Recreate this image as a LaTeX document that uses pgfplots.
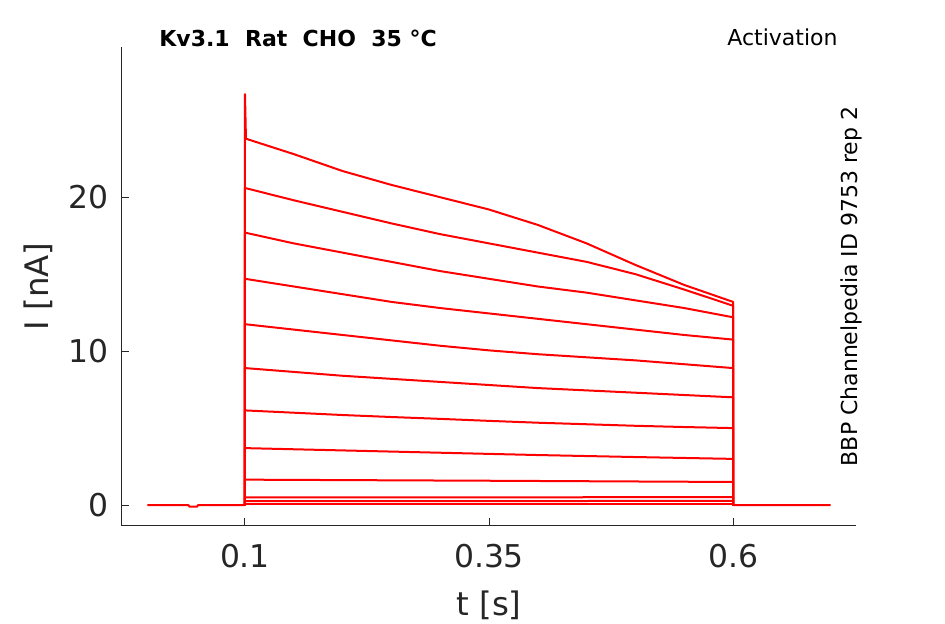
\documentclass[border=0pt]{standalone}
\usepackage{fontspec}
\setmainfont{DejaVu Sans}
\usepackage{pgfplots}
\pgfplotsset{compat=1.18}
\definecolor{axgray}{RGB}{38,38,38}
\tikzset{trace/.style={draw=red, solid, line width=1pt, line join=round, mark=none}}
\begin{document}
\begin{tikzpicture}
\begin{axis}[
  scale only axis, width=367pt, height=239.5pt,
  xmin=-0.026, xmax=0.726, ymin=-1.36, ymax=29.76,
  axis lines*=left, axis line style={-, draw=axgray, line width=0.5pt},
  xtick={0.1,0.35,0.6}, xticklabels={0.1,0.35,0.6},
  ytick={0,10,20},
  tick align=inside, major tick length=3.75pt,
  tick style={draw=axgray, line width=0.5pt},
  ticklabel style={font=\fontsize{15.7}{18}\selectfont, text=axgray},
  /pgf/number format/assume math mode=true,
  xticklabel style={yshift=-5.8pt},
  yticklabel style={xshift=-3.3pt},
  xlabel={t [s]}, ylabel={I [nA]},
  label style={font=\fontsize{16.2}{19}\selectfont, text=axgray},
  xlabel style={at={(axis description cs:0.5,-0.1858)}, anchor=base},
  ylabel style={at={(axis description cs:-0.1008,0.5)}, anchor=base},
]
\addplot[trace] coordinates {(0,0) (0.042,0) (0.043,-0.1) (0.051,-0.1) (0.052,0) (0.1,0) (0.1,26.7) (0.101,23.8) (0.15,22.8) (0.2,21.7) (0.25,20.8) (0.3,20.0) (0.35,19.2) (0.4,18.2) (0.45,17.0) (0.5,15.6) (0.55,14.3) (0.6,13.2) (0.6,0) (0.7,0)};
\addplot[trace] coordinates {(0.1,0) (0.1,20.6) (0.15,19.8) (0.2,19.05) (0.25,18.3) (0.3,17.6) (0.35,17.0) (0.4,16.4) (0.45,15.8) (0.5,15.0) (0.55,14.0) (0.6,12.95) (0.6,0)};
\addplot[trace] coordinates {(0.1,0) (0.1,17.7) (0.15,17.0) (0.2,16.4) (0.25,15.8) (0.3,15.2) (0.35,14.7) (0.4,14.2) (0.45,13.8) (0.5,13.3) (0.55,12.8) (0.6,12.2) (0.6,0)};
\addplot[trace] coordinates {(0.1,0) (0.1,14.7) (0.15,14.2) (0.2,13.7) (0.25,13.2) (0.3,12.8) (0.35,12.45) (0.4,12.1) (0.45,11.75) (0.5,11.4) (0.55,11.05) (0.6,10.75) (0.6,0)};
\addplot[trace] coordinates {(0.1,0) (0.1,11.75) (0.15,11.4) (0.2,11.05) (0.25,10.7) (0.3,10.35) (0.35,10.05) (0.4,9.8) (0.45,9.6) (0.5,9.4) (0.55,9.15) (0.6,8.9) (0.6,0)};
\addplot[trace] coordinates {(0.1,0) (0.1,8.9) (0.15,8.65) (0.2,8.4) (0.25,8.2) (0.3,8.0) (0.35,7.8) (0.4,7.6) (0.45,7.45) (0.5,7.3) (0.55,7.15) (0.6,7.0) (0.6,0)};
\addplot[trace] coordinates {(0.1,0) (0.1,6.15) (0.15,6.0) (0.2,5.85) (0.25,5.72) (0.3,5.6) (0.35,5.47) (0.4,5.35) (0.45,5.25) (0.5,5.15) (0.55,5.07) (0.6,5.0) (0.6,0)};
\addplot[trace] coordinates {(0.1,0) (0.1,3.7) (0.2,3.55) (0.3,3.4) (0.4,3.25) (0.5,3.12) (0.6,3.0) (0.6,0)};
\addplot[trace] coordinates {(0.1,0) (0.1,1.65) (0.35,1.58) (0.6,1.5) (0.6,0)};
\addplot[trace] coordinates {(0.1,0) (0.1,0.5) (0.35,0.5) (0.6,0.52) (0.6,0)};
\addplot[trace] coordinates {(0.1,0) (0.1,0.25) (0.35,0.26) (0.6,0.27) (0.6,0)};
\addplot[trace] coordinates {(0.1,0) (0.1,0.06) (0.35,0.06) (0.6,0.06) (0.6,0)};
\end{axis}
\node[anchor=base west, inner sep=0, font=\bfseries\fontsize{11}{13}\selectfont] at (18.5pt,239.5pt) {Kv3.1\ \ Rat\ \ CHO\ \ 35 °C};
\node[anchor=base west, inner sep=0, font=\fontsize{11}{13}\selectfont] at (302.5pt,240pt) {Activation};
\node[rotate=90, anchor=center, inner sep=0, font=\fontsize{11}{13}\selectfont] at (364.75pt,119.75pt) {BBP Channelpedia ID 9753 rep 2};
\pgfresetboundingbox
\path[use as bounding box] (-61pt,-49pt) rectangle (411.5pt,263pt);
\end{tikzpicture}
\end{document}
